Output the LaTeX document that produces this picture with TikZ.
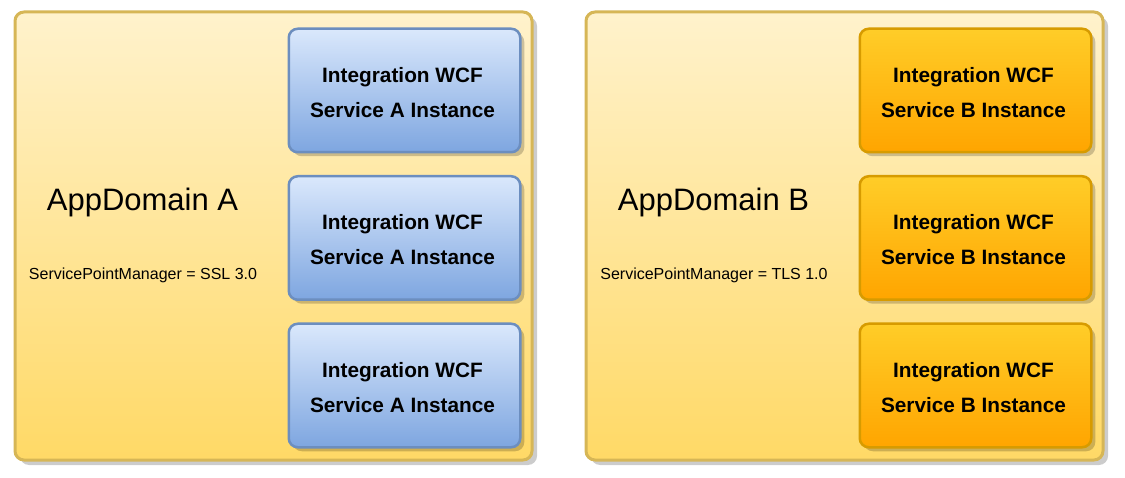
\documentclass[tikz,border=0pt]{standalone}
\usepackage{fontspec}
\setmainfont{Liberation Sans}
\usetikzlibrary{shadows,calc}
\definecolor{domtop}{HTML}{FFF2CC}
\definecolor{dombot}{HTML}{FFD966}
\definecolor{domline}{HTML}{D6B656}
\definecolor{bluetop}{HTML}{DAE8FC}
\definecolor{bluebot}{HTML}{7EA6E0}
\definecolor{blueline}{HTML}{6C8EBF}
\definecolor{orgtop}{HTML}{FFCD28}
\definecolor{orgbot}{HTML}{FFA500}
\definecolor{orgline}{HTML}{D79B00}
\tikzset{
  domainbox/.style={rectangle, draw=domline, line width=3pt, rounded corners=9pt,
    top color=domtop, bottom color=dombot, anchor=north west, inner sep=0pt,
    minimum width=517pt, minimum height=448pt,
    drop shadow={shadow xshift=5pt, shadow yshift=-5pt, fill=black, opacity=0.2}},
  svcbox/.style={rectangle, line width=2.5pt, rounded corners=9pt, anchor=north west,
    inner sep=0pt, minimum width=231.5pt, minimum height=123.5pt,
    drop shadow={shadow xshift=4pt, shadow yshift=-4pt, fill=black, opacity=0.2}},
  bluebox/.style={svcbox, draw=blueline, top color=bluetop, bottom color=bluebot},
  orangebox/.style={svcbox, draw=orgline, top color=orgtop, bottom color=orgbot},
  svctext/.style={font=\bfseries\fontsize{20.8}{35}\selectfont, align=center, inner sep=0pt},
  domtitle/.style={font=\fontsize{31}{31}\selectfont, anchor=base, inner sep=0pt},
  domnote/.style={font=\fontsize{16}{16}\selectfont, anchor=base, inner sep=0pt}
}
\begin{document}
\begin{tikzpicture}[x=1pt,y=-1pt]
\useasboundingbox (0,0) rectangle (1125,478);
% domains
\node[domainbox] (domA) at (13.5,10.5) {};
\node[domainbox] (domB) at (584.5,10.5) {};
\node[domtitle] (titleA) at (142.5,211) {AppDomain A};
\node[domnote] (noteA) at (143,280) {ServicePointManager = SSL 3.0};
\node[domtitle] (titleB) at (713.5,211) {AppDomain B};
\node[domnote] (noteB) at (714,280) {ServicePointManager = TLS 1.0};
% service boxes
\foreach \i/\y in {1/27.5, 2/175, 3/322.5} {
  \node[bluebox] (a\i) at (287.5,\y) {};
  \node[svctext] (a\i t) at ($(a\i.center)+(-2,2)$) {Integration WCF\\Service A Instance};
  \node[orangebox] (b\i) at (858.5,\y) {};
  \node[svctext] (b\i t) at ($(b\i.center)+(-2,2)$) {Integration WCF\\Service B Instance};
}
\end{tikzpicture}
\end{document}
